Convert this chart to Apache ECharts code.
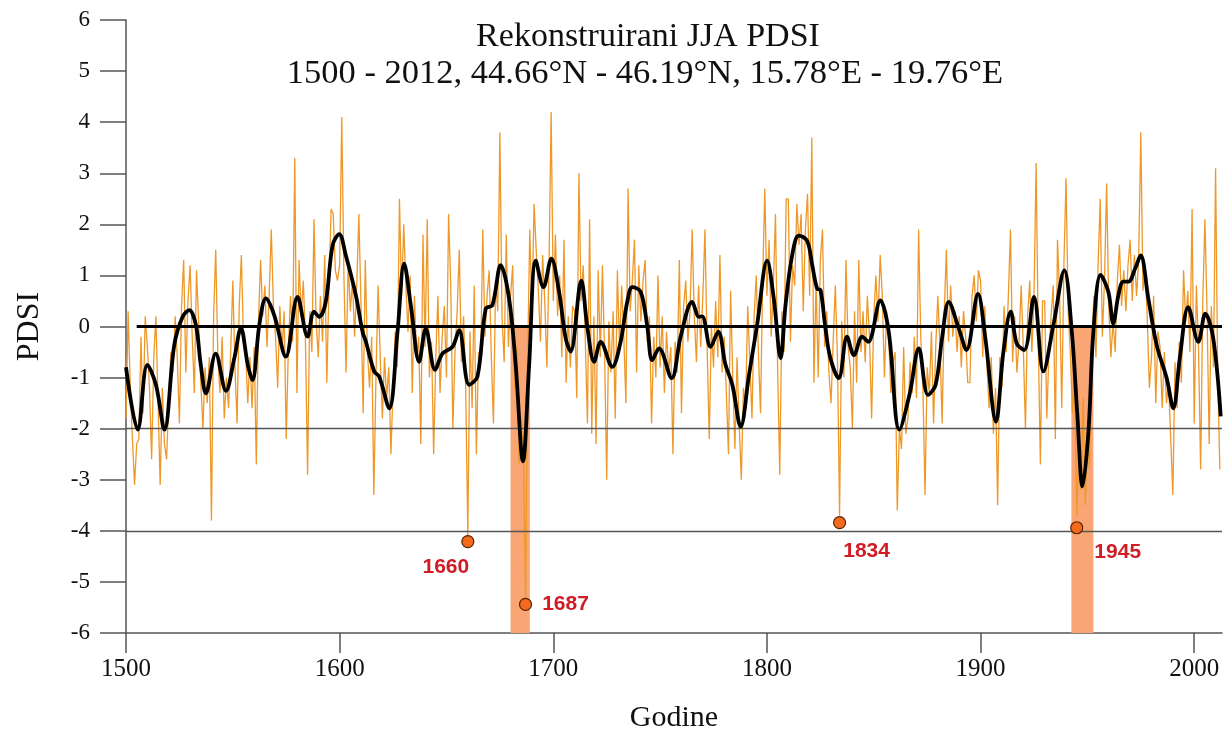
<!DOCTYPE html>
<html><head><meta charset="utf-8">
<script src="https://cdn.jsdelivr.net/npm/echarts@6/dist/echarts.min.js"></script>
<style>html,body{margin:0;padding:0;background:#fff}#c{width:1226px;height:738px}</style>
</head><body><div id="c"></div>
<script>
// ---------------- data ----------------
const startYear = 1500;
const annualPDSI = [
-1.8, 0.3, -1.2, -2.2, -3.1, -2.3, -2.2, -0.2, -1.7, 0.2,
-0.4, -1.2, -2.6, -0.6, 0.2, -1.5, -3.1, -1.2, -2.3, -2.6,
-1.4, -0.5, -0.9, 0.2, -0.6, -1.9, 0.4, 1.3, -0.9, 0.5,
1.2, -0.2, -1.3, 1.1, 0.1, -1.1, -2.0, -0.8, -1.5, -0.6,
-3.8, 0.2, 1.5, -0.6, -1.3, -0.2, -1.8, -1.0, -1.6, -0.5,
0.9, -0.8, -1.9, 0.4, 1.4, -0.3, -0.5, -1.5, -0.6, -1.6,
-0.4, -2.7, 0.1, 1.3, 0.2, 0.8, -0.4, 0.6, 1.9, 0.4,
-0.2, -1.2, 0.4, -0.5, 0.3, -2.2, -0.4, 0.6, -0.3, 3.3,
-1.3, 1.3, 0.2, 0.9, -0.3, -2.9, 0.3, -0.5, 2.1, 0.1,
-0.6, 0.6, -0.3, 1.4, -1.1, 0.8, 2.3, 2.2, 1.1, 0.9,
1.2, 4.1, 1.0, -0.9, 1.3, 0.3, 0.9, -0.2, 0.8, 2.2,
0.4, -1.7, 1.3, -0.5, -1.2, -0.2, -3.3, -1.0, 0.8, -0.6,
-1.8, -0.6, -1.4, -0.8, -2.5, -1.2, -0.1, -0.8, 2.5, 0.6,
2.0, 0.8, -0.1, 1.0, -1.3, 0.6, -0.6, -0.2, -2.3, 1.8,
-0.4, 2.1, -1.0, -0.3, -2.5, -0.6, 0.6, -1.3, -0.2, 0.4,
-1.0, 2.2, 0.8, -2.0, -0.5, 0.3, 1.5, -0.7, 0.2, -1.2,
-4.1, -0.1, -1.6, 0.8, -2.5, -0.5, -0.7, 1.9, -0.2, 0.6,
1.1, -0.6, -1.9, 0.9, 0.3, 3.8, 0.2, -0.7, 1.8, -0.4,
0.6, 1.2, -1.2, -0.4, -2.7, -1.8, -2.4, -5.3, -0.6, 1.9,
0.2, 2.4, 1.5, 0.7, -0.3, 1.4, 0.5, -0.8, 1.2, 4.2,
0.5, 1.8, 0.2, 1.0, -0.6, 1.7, -1.1, 0.2, -0.8, 0.4,
0.3, -1.4, 3.0, 0.5, 1.2, -0.3, -1.9, 2.1, -2.1, 0.2,
-2.3, 1.1, -0.6, 1.2, -0.5, -3.0, 0.1, -0.9, 0.3, -1.8,
1.1, -0.4, 0.8, -0.2, -1.5, 2.7, 0.3, 0.9, 1.7, -0.9,
1.2, 0.1, 0.9, 1.3, -0.3, 0.2, -1.9, -0.2, -1.0, 1.0,
-0.8, 0.2, -1.3, -0.1, -0.9, -0.4, -2.5, -0.3, -0.9, 1.3,
-1.7, 0.4, 0.9, -0.3, 0.3, 1.9, 0.2, -0.7, 0.8, -0.4,
0.6, 1.9, -0.4, -2.2, 0.0, -0.8, 0.5, -0.6, 1.4, -0.9,
-0.2, -1.3, -2.5, 0.7, -1.0, -2.4, -0.6, -1.9, -3.0, -1.2,
-1.6, 0.4, -0.7, -1.8, 0.2, 1.0, -0.5, -1.7, 0.9, 2.7,
0.6, 1.7, -0.2, 0.8, 2.2, -0.8, -2.9, 0.3, -0.5, 2.5,
2.5, -0.3, 1.2, 0.8, 2.4, 1.6, 2.2, 0.3, 1.9, 2.6,
0.6, 3.7, -1.1, 0.9, -1.0, 1.3, 1.9, -0.4, 0.3, -0.9,
-1.5, -0.3, 0.8, -0.6, -3.7, 0.1, -1.0, 1.3, -0.4, -0.8,
-2.0, 0.3, -1.1, 1.3, -0.5, 0.3, -0.7, 0.6, -0.2, -1.8,
0.2, 1.0, 0.1, 1.4, 0.6, -1.0, 0.3, -0.2, -1.3, -0.7,
-0.5, -3.6, -2.0, -2.4, -0.4, -2.1, -1.8, -0.7, -1.3, -0.2,
-1.4, 1.9, -0.2, -1.2, -3.3, -0.8, -1.3, -0.1, -1.9, -0.4,
0.6, -0.4, -1.9, 0.3, 1.5, -0.3, 0.8, -0.2, 0.3, -0.5,
0.2, -0.8, 0.3, -0.2, -1.1, -1.1, 0.6, 1.0, 0.1, 1.1,
0.9, -0.6, 0.4, -0.8, -1.6, -0.6, -2.1, -1.2, -3.5, -0.6,
-1.2, 0.4, -0.5, 0.6, 1.9, -0.7, 0.2, -0.9, -0.3, 0.8,
-0.4, -2.0, 0.2, 0.9, -0.5, 0.6, 3.2, -0.3, -2.7, 0.5,
0.5, -1.8, -0.5, 0.2, 0.8, -2.2, 1.7, 0.6, -1.6, 1.2,
2.9, 0.3, -0.5, -1.7, -0.8, -3.7, -2.4, -3.2, -1.4, -3.5,
-2.0, -2.8, -0.6, 0.6, -0.6, 1.2, 2.5, -0.2, 0.9, 2.8,
0.4, -0.6, 0.1, -0.5, 0.9, 1.6, 0.4, 1.1, 0.3, 1.2,
1.7, 0.5, 1.4, 0.6, 1.3, 3.8, 0.7, 1.1, 0.2, -1.2,
-0.6, 0.6, -1.5, -0.1, -0.4, -1.6, -0.5, -1.5, -1.1, -2.2,
-3.3, -0.7, -1.6, -0.3, -1.1, 1.1, 0.1, 0.7, -0.5, 2.3,
-1.9, 0.8, -0.4, -2.8, 0.5, 2.1, 0.3, -2.3, 0.4, -0.8,
3.1, -1.0, -2.8
];
const smoothYears = [
1500, 1505.5, 1510, 1514, 1518, 1522.6, 1526.5, 1529.6, 1532.7, 1535, 1537.4, 1542, 1546.8, 1550.7, 1553.8,
1557, 1559.2, 1562.4, 1565.5, 1569.4, 1574.8, 1580.3, 1585, 1588, 1590.4, 1593.5, 1596.7, 1599.8, 1602.9,
1607.6, 1610.7, 1612.3, 1616.2, 1618.5, 1623.2, 1627.1, 1630.2, 1633.3, 1637.2, 1640.3, 1644.7, 1648.1,
1652.8, 1655.9, 1660.6, 1664.5, 1668.4, 1671.5, 1675.4, 1679.3, 1682.4, 1685.8, 1688.7, 1691.8, 1695.4,
1699.1, 1702.7, 1705.8, 1708.1, 1713.1, 1715.9, 1719.1, 1722.2, 1727.6, 1731.5, 1734.6, 1737, 1740.9,
1744, 1746.3, 1749.5, 1755.4, 1759.6, 1765, 1768.2, 1769.7, 1773.6, 1777.2, 1780.6, 1783.8, 1787.7,
1791.6, 1795.4, 1800.1, 1803.2, 1806.4, 1808.7, 1811.8, 1814.9, 1818.8, 1821.2, 1823.5, 1825.1, 1827.4,
1829.7, 1833.6, 1837.5, 1840.7, 1844.6, 1847.4, 1853.1, 1857, 1862, 1866.7, 1871.1, 1875.4, 1878.9,
1882, 1885.1, 1889.8, 1893.4, 1898.8, 1902.2, 1907.2, 1910.7, 1914.1, 1916.9, 1920.4, 1925, 1929.4,
1934.1, 1939.2, 1942.7, 1945.3, 1947.7, 1950.5, 1952.8, 1956.2, 1959.8, 1962.1, 1964.5, 1966.8, 1969.2,
1972.3, 1974.9, 1978.5, 1982.4, 1987.1, 1990.2, 1993.3, 1997.2, 2001.9, 2005.2, 2008.9, 2012.4
];
const smoothValues = [
-0.8, -2.02, -0.75, -1.14, -2.02, -0.36, 0.19, 0.32, 0.03, -0.75, -1.31, -0.53, -1.26, -0.62, -0.03,
-0.75, -1.05, 0.03, 0.55, 0.22, -0.59, 0.58, -0.2, 0.29, 0.19, 0.48, 1.59, 1.81, 1.39,
0.61, -0.1, -0.3, -0.88, -0.98, -1.6, -0.1, 1.23, 0.42, -0.69, -0.04, -0.85, -0.53,
-0.4, -0.07, -1.14, -0.98, 0.35, 0.42, 1.2, 0.55, -0.75, -2.64, -0.75, 1.29, 0.77,
1.33, 0.68, -0.23, -0.49, 0.9, 0.0, -0.69, -0.3, -0.79, -0.3, 0.48, 0.77, 0.68,
0.0, -0.66, -0.43, -1.01, -0.2, 0.48, 0.19, 0.2, -0.4, -0.1, -0.75, -1.14, -1.96,
-0.95, 0.03, 1.29, 0.55, -0.62, 0.42, 1.39, 1.78, 1.68, 1.2, 0.74, 0.71, -0.04,
-0.62, -1.01, -0.2, -0.56, -0.2, -0.3, 0.51, -0.1, -2.02, -1.34, -0.43, -1.34, -1.15,
-0.22, 0.48, -0.04, -0.46, 0.64, -0.22, -1.86, -0.49, 0.29, -0.33, -0.46, 0.58, -0.88,
0.03, 1.1, -0.1, -1.73, -3.13, -2.05, -0.1, 1.01, 0.68, 0.06, 0.61, 0.88, 0.88,
1.13, 1.39, 0.55, -0.36, -1.01, -1.6, -0.6, 0.38, -0.3, 0.25, -0.23, -1.76
];
const droughtYears = [1660, 1687, 1834, 1945];
const droughtValues = [-4.21, -5.44, -3.84, -3.94];
const bandStarts = [1680, 1942.5];
const bandEnds = [1689, 1952.8];
const referenceLevels = [-2, -4];
const zeroLineStart = 1505;
const xTickLabels = [1500, 1600, 1700, 1800, 1900, 2000];
const titleLine1 = 'Rekonstruirani JJA PDSI';
const titleLine2 = '1500 - 2012, 44.66°N - 46.19°N, 15.78°E - 19.76°E';
const xAxisName = 'Godine';
const yAxisName = 'PDSI';

// ---------------- styling ----------------
const serif = '"Liberation Serif", "Times New Roman", serif';
const axisGray = '#555555';
const labelOffsets = [[-22, 26], [40, 0], [27, 29], [41, 24]];
const xMin = 1500, xMax = 2013;

const chart = echarts.init(document.getElementById('c'), null, {renderer: 'canvas'});

const option = {
  animation: false,
  backgroundColor: '#ffffff',
  title: [
    {text: titleLine1, left: 648, top: 20, textAlign: 'center', padding: 0,
     textStyle: {fontFamily: serif, fontSize: 34, fontWeight: 'normal', color: '#111'}},
    {text: titleLine2, left: 645, top: 56, textAlign: 'center', padding: 0,
     textStyle: {fontFamily: serif, fontSize: 34.5, fontWeight: 'normal', color: '#111'}}
  ],
  grid: {left: 126, right: 4, top: 20, bottom: 102, containLabel: false},
  xAxis: {
    type: 'value', min: xMin, max: xMax,
    name: xAxisName, nameLocation: 'middle', nameGap: 70,
    nameTextStyle: {fontFamily: serif, fontSize: 30, color: '#111'},
    axisLine: {show: true, onZero: false, lineStyle: {color: axisGray, width: 1.5}},
    axisTick: {show: true, length: 20, customValues: xTickLabels, lineStyle: {color: axisGray, width: 1.5}},
    axisLabel: {customValues: xTickLabels, formatter: v => String(v),
      fontFamily: serif, fontSize: 25, color: '#111', margin: 24},
    splitLine: {show: false}
  },
  yAxis: {
    type: 'value', min: -6, max: 6, interval: 1,
    name: yAxisName, nameLocation: 'middle', nameGap: 80, nameRotate: 90,
    nameTextStyle: {fontFamily: serif, fontSize: 32, color: '#111'},
    axisLine: {show: true, onZero: false, lineStyle: {color: axisGray, width: 1.5}},
    axisTick: {show: true, length: 26, lineStyle: {color: axisGray, width: 1.5}},
    axisLabel: {fontFamily: serif, fontSize: 23, color: '#111', margin: 36},
    splitLine: {show: false}
  },
  series: [
    {
      name: 'bands', type: 'line', data: [], z: 1, silent: true,
      markArea: {
        silent: true,
        itemStyle: {color: '#F9A674', opacity: 1},
        data: bandStarts.map((s, i) => [{coord: [s, 0]}, {coord: [bandEnds[i], -6]}])
      },
      markLine: {
        silent: true, symbol: 'none', label: {show: false},
        lineStyle: {color: axisGray, width: 1.3, type: 'solid'},
        data: referenceLevels.map(v => ({yAxis: v}))
      }
    },
    {
      name: 'annual', type: 'line', z: 3, showSymbol: false, silent: true,
      data: annualPDSI.map((v, i) => [startYear + i, v]),
      lineStyle: {color: '#EE982A', width: 1.3}
    },
    {
      name: 'zero', type: 'line', data: [], z: 4, silent: true,
      markLine: {
        silent: true, symbol: 'none', label: {show: false},
        lineStyle: {color: '#000', width: 3, type: 'solid'},
        data: [[{coord: [zeroLineStart, 0]}, {coord: [xMax, 0]}]]
      }
    },
    {
      name: 'smooth', type: 'line', z: 5, showSymbol: false, silent: true,
      smooth: 0.35,
      data: smoothYears.map((y, i) => [y, smoothValues[i]]),
      lineStyle: {color: '#000', width: 3.8}
    },
    {
      name: 'drought', type: 'scatter', z: 6, silent: true,
      symbolSize: 12,
      itemStyle: {color: '#F26A1E', borderColor: '#5a2200', borderWidth: 1.2, opacity: 1},
      data: droughtYears.map((y, i) => ({
        value: [y, droughtValues[i]],
        label: {show: true, position: 'inside', offset: labelOffsets[i], formatter: String(y),
          fontFamily: '"Liberation Sans", Arial, sans-serif', fontWeight: 'bold',
          fontSize: 21, color: '#D01C24', textBorderWidth: 0, opacity: 1}
      })),
      label: {
        show: true, fontFamily: '"Liberation Sans", Arial, sans-serif', fontWeight: 'bold',
        fontSize: 21, color: '#D01C24', textBorderWidth: 0
      }
    }
  ]
};
chart.setOption(option);
</script>
</body></html>
